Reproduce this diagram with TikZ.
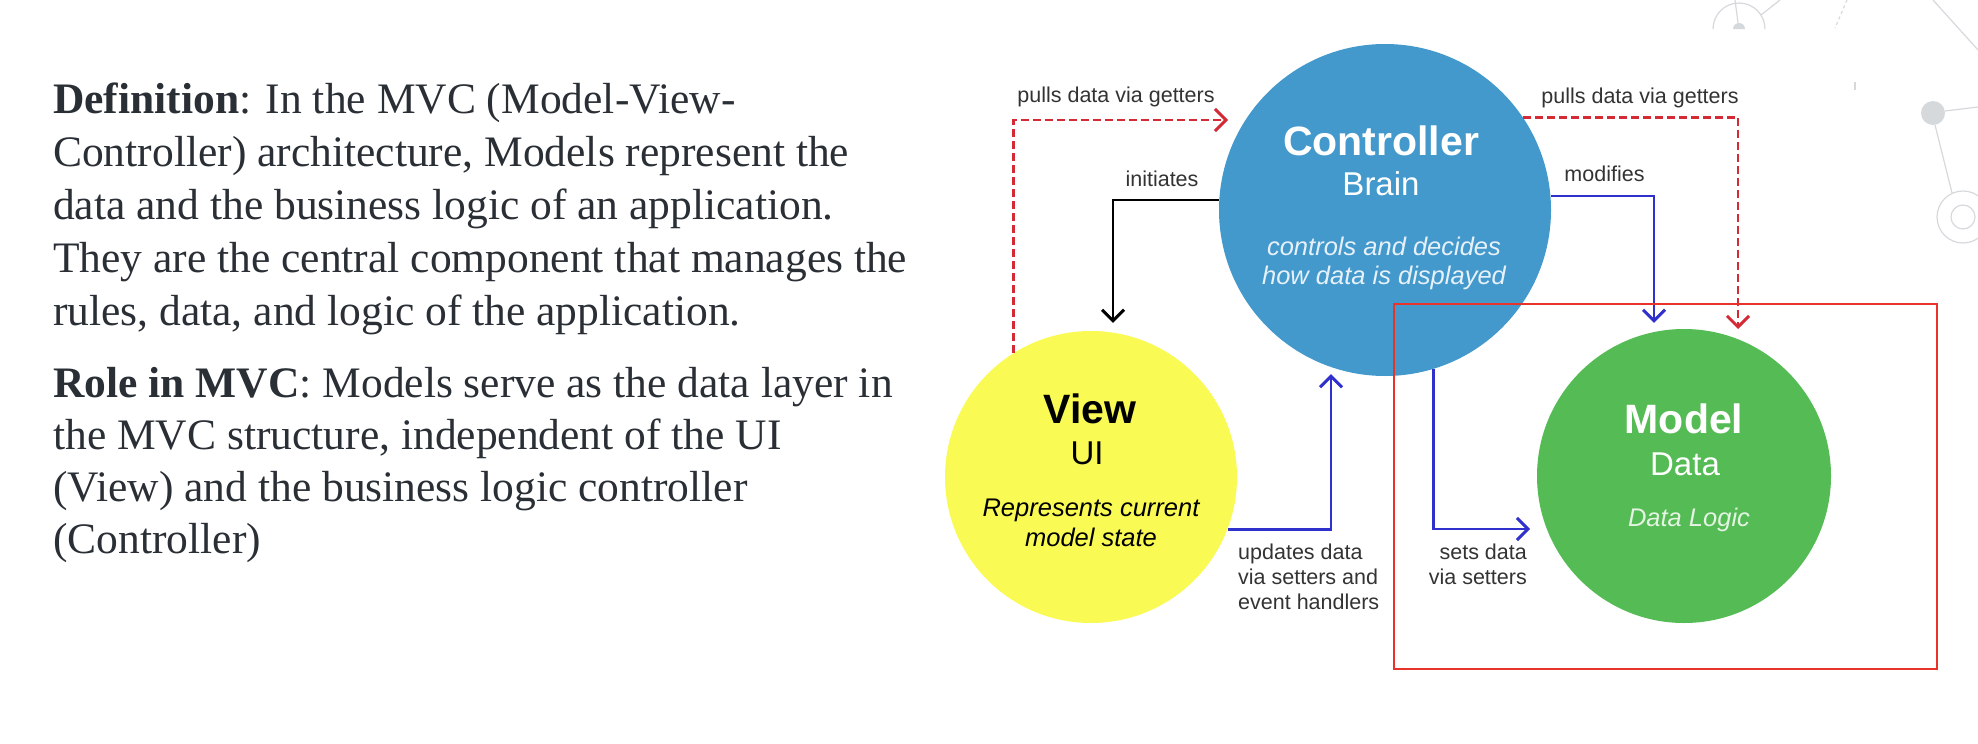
\documentclass[tikz,border=0pt]{standalone}
\usepackage{fontspec}
\setmainfont{Liberation Serif}
\newfontfamily\dia{Liberation Sans}
\usetikzlibrary{arrows.meta}
\definecolor{ctrlblue}{HTML}{4499CC}
\definecolor{viewyellow}{HTML}{FAFA55}
\definecolor{modelgreen}{HTML}{55BB55}
\definecolor{arrowblue}{HTML}{3030CC}
\definecolor{dashred}{HTML}{D42A36}
\definecolor{boxred}{HTML}{E8332A}
\definecolor{txt}{HTML}{2A2F35}
\definecolor{lbl}{HTML}{333333}
\definecolor{deco}{HTML}{D5D9DC}
\definecolor{lightblue}{HTML}{E6F1FA}
\definecolor{lightgreen}{HTML}{E3F4E3}
\begin{document}
\begin{tikzpicture}[x=1pt,y=-1pt,
  bubble/.style={circle,inner sep=0pt,draw=none},
  para/.style={anchor=base west,inner sep=0pt,text=txt,font=\fontsize{43.5}{52}\selectfont},
  lab/.style={anchor=base,inner sep=0pt,text=lbl,font=\dia\fontsize{21.5}{26}\selectfont},
  title/.style={anchor=base,inner sep=0pt,font=\dia\bfseries\fontsize{41}{48}\selectfont},
  sub/.style={anchor=base,inner sep=0pt,font=\dia\fontsize{33}{40}\selectfont},
  desc/.style={anchor=base,inner sep=0pt,font=\dia\itshape\fontsize{25.5}{30}\selectfont},
  conn/.style={line width=2.9pt},
  blk/.style={conn,draw=black,-{Straight Barb[length=11pt,width=22pt]}},
  blu/.style={conn,draw=arrowblue,-{Straight Barb[length=11pt,width=22pt]}},
  redd/.style={conn,draw=dashred,dash pattern=on 8pt off 4pt,-{Straight Barb[length=11pt,width=22pt]}},
  decoline/.style={draw=deco,line width=1.2pt}
]
\useasboundingbox (0,0) rectangle (1978,744);

% faint background decoration
\draw[decoline] (1713,29) arc[start angle=180,end angle=360,radius=26];
\fill[deco] (1733,29) arc[start angle=180,end angle=360,radius=6] -- cycle;
\draw[decoline] (1735,0) -- (1738,23);
\draw[decoline] (1761,15) -- (1780,0);
\draw[decoline,dashed] (1847,0) -- (1835,28);
\draw[decoline] (1855,82) -- (1855,90);
\draw[decoline] (1933,0) -- (1978,50);
\fill[deco] (1933,113) circle[radius=12];
\draw[decoline] (1945,111) -- (1978,107);
\draw[decoline] (1935,125) -- (1952,193);
\draw[decoline] (1963,217) circle[radius=26];
\draw[decoline] (1963,217) circle[radius=12];

% left text
\node[para] (l1) at (53,113) {\textbf{Definition}: In the MVC (Model-View-};
\node[para] (l2) at (53,166) {Controller) architecture, Models represent the};
\node[para] (l3) at (53,219) {data and the business logic of an application.};
\node[para] (l4) at (53,272) {They are the central component that manages the};
\node[para] (l5) at (53,325) {rules, data, and logic of the application.};
\node[para] (l6) at (53,397) {\textbf{Role in MVC}: Models serve as the data layer in};
\node[para] (l7) at (53,449) {the MVC structure, independent of the UI};
\node[para] (l8) at (53,501) {(View) and the business logic controller};
\node[para] (l9) at (53,553) {(Controller)};

% circles
\node[bubble,fill=ctrlblue,minimum size=332pt] (ctrl) at (1385,210) {};
\node[bubble,fill=viewyellow,minimum size=292pt] (view) at (1091,477) {};
\node[bubble,fill=modelgreen,minimum size=294pt] (model) at (1684,476) {};

% circle texts
\node[title,text=white] (ctrlT) at (1381,155) {Controller};
\node[sub,text=white] (ctrlS) at (1381,195.5) {Brain};
\node[desc,text=lightblue] (ctrlD1) at (1384,255) {controls and decides};
\node[desc,text=lightblue] (ctrlD2) at (1384,284) {how data is displayed};

\node[title,text=black] (viewT) at (1090,423) {View};
\node[sub,text=black] (viewS) at (1087,464) {UI};
\node[desc,text=black] (viewD1) at (1091,516) {Represents current};
\node[desc,text=black] (viewD2) at (1091,546.5) {model state};

\node[title,text=white] (modelT) at (1684,433.5) {Model};
\node[sub,text=white] (modelS) at (1685,475.5) {Data};
\node[desc,text=lightgreen] (modelD) at (1689,526.5) {Data Logic};

% connector end points
\coordinate (ltip) at (1228,120);
\coordinate (rtip) at (1738,329);
\coordinate (stip) at (1530,529);

% connectors
\draw[redd] (view.122) |- (ltip);
\draw[redd] (ctrl.34) -| (rtip);
\draw[blk] ([yshift=10pt]ctrl.west) -| ([xshift=22pt,yshift=8pt]view.north);
\draw[blu] ([yshift=14pt]ctrl.east) -| ([xshift=-30pt,yshift=6pt]model.north);
\draw[blu] (view.-21) -| ([xshift=-54pt,yshift=2pt]ctrl.south);
\draw[blu] (ctrl.-73) |- (stip);

% labels
\node[lab] (pl) at (1116,102) {pulls data via getters};
\node[lab] (pr) at (1640,103) {pulls data via getters};
\node[lab] (ini) at (1162,186.5) {initiates};
\node[lab] (mod) at (1604.5,181) {modifies};
\node[lab,anchor=base west] (upd1) at (1238,559) {updates data};
\node[lab,anchor=base west] (upd2) at (1238,584.5) {via setters and};
\node[lab,anchor=base west] (upd3) at (1238,609) {event handlers};
\node[lab,anchor=base east] (set1) at (1527,559) {sets data};
\node[lab,anchor=base east] (set2) at (1527,584.5) {via setters};

% highlight box
\draw[boxred,line width=2.6pt] (1394,304) rectangle (1937,669);
\end{tikzpicture}
\end{document}
